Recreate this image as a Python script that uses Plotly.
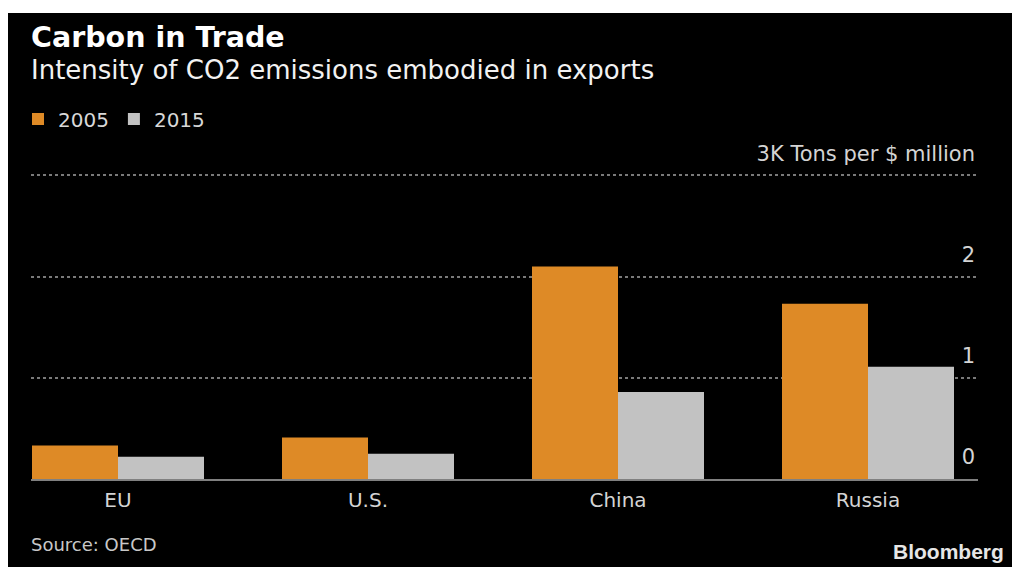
import plotly.graph_objects as go

categories = ["EU", "U.S.", "China", "Russia"]
values_2005 = [0.33, 0.41, 2.10, 1.73]
values_2015 = [0.22, 0.25, 0.86, 1.11]
series_names = ["2005", "2015"]
tick_vals = [0, 1, 2, 3]
tick_text = ["0", "1", "2", "3K Tons per $ million"]

W, H = 1012, 567
L, R, T, B = 31, 34, 150, 88
plot_w = W - L - R
plot_h = H - T - B


def px_x(px):
    return (px - L) / plot_w


def px_y(py):
    return (H - B - py) / plot_h


ORANGE = "#DE8A26"
GREY = "#C2C2C2"
FONT = "DejaVu Sans"

fig = go.Figure()
fig.add_trace(go.Bar(x=categories, y=values_2005, name=series_names[0],
                     marker=dict(color=ORANGE, line=dict(width=0))))
fig.add_trace(go.Bar(x=categories, y=values_2015, name=series_names[1],
                     marker=dict(color=GREY, line=dict(width=0))))

fig.update_layout(
    width=W, height=H,
    margin=dict(l=L, r=R, t=T, b=B, pad=0),
    paper_bgcolor="white",
    plot_bgcolor="black",
    barmode="group",
    bargap=0.312,
    bargroupgap=0,
    font=dict(family=FONT, color="#D4D4D4"),
    showlegend=True,
    legend=dict(
        orientation="h",
        x=px_x(18), xanchor="left",
        y=px_y(119), yanchor="middle",
        font=dict(size=20, color="#D8D8D8", family=FONT),
        bgcolor="rgba(0,0,0,0)",
        itemclick=False,
        traceorder="normal",
    ),
    xaxis=dict(
        range=[-0.348, 3.44],
        showgrid=False,
        showline=True,
        linecolor="#808080",
        linewidth=2,
        ticks="",
        ticklabelstandoff=2,
        tickfont=dict(size=20, color="#D4D4D4", family=FONT),
        fixedrange=True,
    ),
    yaxis=dict(
        range=[0, 3.25],
        side="right",
        tickvals=tick_vals,
        ticktext=tick_text,
        ticklabelposition="inside",
        ticklabeloverflow="allow",
        ticklabelshift=-22,
        ticklabelstandoff=0,
        ticks="",
        showgrid=True,
        gridcolor="#7A7A7A",
        griddash="dot",
        gridwidth=1.5,
        zeroline=False,
        showline=False,
        tickfont=dict(size=21, color="#D4D4D4", family=FONT),
        fixedrange=True,
    ),
    shapes=[dict(
        type="rect", xref="paper", yref="paper", layer="below",
        x0=px_x(8), x1=px_x(1020), y0=px_y(575), y1=px_y(13),
        fillcolor="black", line=dict(width=0),
    )],
    annotations=[
        dict(text="<b>Carbon in Trade</b>", xref="paper", yref="paper",
             x=px_x(29), y=px_y(37), xanchor="left", yanchor="middle",
             showarrow=False, font=dict(size=28.5, color="white", family=FONT)),
        dict(text="Intensity of CO2 emissions embodied in exports", xref="paper", yref="paper",
             x=px_x(29), y=px_y(70), xanchor="left", yanchor="middle",
             showarrow=False, font=dict(size=26, color="#F2F2F2", family=FONT)),
        dict(text="Source: OECD", xref="paper", yref="paper",
             x=px_x(29), y=px_y(544), xanchor="left", yanchor="middle",
             showarrow=False, font=dict(size=18, color="#C8C8C8", family=FONT)),
        dict(text="<b>Bloomberg</b>", xref="paper", yref="paper",
             x=px_x(1006), y=px_y(551), xanchor="right", yanchor="middle",
             showarrow=False, font=dict(size=21, color="#E6E6E6", family="Liberation Sans")),
    ],
)

fig.write_html("out.html", config={"displayModeBar": False})
